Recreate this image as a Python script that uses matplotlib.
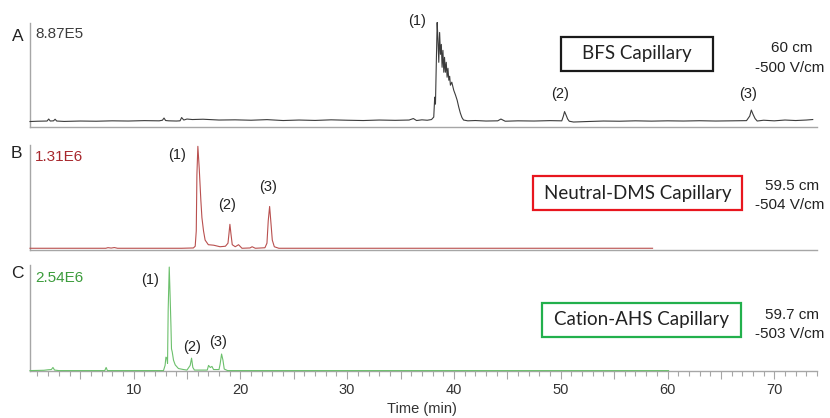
import matplotlib
matplotlib.use("Agg")
import matplotlib.pyplot as plt
from matplotlib.patches import Rectangle
from matplotlib.ticker import MultipleLocator, FuncFormatter

W, H = 830, 418          # output size in px (dpi 100)
XMIN, XMAX = 0.3, 74.0   # time window (min)

# --- traces: time (min), intensity / full scale ---
bfs_t = [0.3, 1.0, 1.9, 2.05, 2.2, 2.5, 2.65, 2.8, 3.5, 5, 6.5, 8, 9.5, 11, 12.4,
         12.7, 12.85, 13.0, 13.3, 14.0, 14.35, 14.5, 14.7, 15.0, 15.5, 16.5, 18,
         19.5, 21, 22.5, 24, 25.5, 27, 28.5, 30, 31.5, 33, 34.5, 35.8, 36.2, 36.5,
         37.0, 37.5, 37.9, 38.11, 38.2, 38.27, 38.35, 38.43, 38.5, 38.58, 38.66,
         38.74, 38.82, 38.89, 38.97, 39.05, 39.12, 39.2, 39.28, 39.36, 39.44, 39.52,
         39.6, 39.67, 39.8, 39.98, 40.15, 40.3, 40.45, 40.6, 40.75, 40.9, 41.3, 42,
         43, 44.1, 44.4, 44.8, 46, 47.5, 49, 50.1, 50.25, 50.36, 50.5, 50.65, 50.8,
         51.2, 52.5, 54, 55.5, 57, 58.5, 60, 61.5, 63, 64.5, 66, 67.4, 67.7, 67.85,
         68.0, 68.2, 68.4, 69, 70, 71, 72, 73, 73.6]
bfs_i = [0.005, 0.008, 0.01, 0.03, 0.01, 0.012, 0.028, 0.01, 0.006, 0.01, 0.008,
         0.012, 0.01, 0.014, 0.012, 0.018, 0.04, 0.015, 0.012, 0.01, 0.012, 0.045,
         0.02, 0.03, 0.025, 0.028, 0.02, 0.022, 0.018, 0.024, 0.015, 0.02, 0.016,
         0.022, 0.018, 0.015, 0.02, 0.017, 0.02, 0.035, 0.015, 0.022, 0.018, 0.025,
         0.05, 0.25, 0.18, 0.6, 1.0, 0.84, 0.6, 0.9, 0.68, 0.78, 0.55, 0.72, 0.5,
         0.65, 0.5, 0.6, 0.45, 0.54, 0.42, 0.46, 0.37, 0.4, 0.32, 0.27, 0.22, 0.15,
         0.09, 0.045, 0.02, 0.012, 0.015, 0.01, 0.012, 0.03, 0.008, 0.012, 0.01,
         0.014, 0.012, 0.06, 0.105, 0.07, 0.03, 0.008, 0.0, 0.005, 0.01, 0.008,
         0.012, 0.009, 0.012, 0.01, 0.013, 0.01, 0.012, 0.014, 0.06, 0.12, 0.08,
         0.035, 0.01, 0.018, 0.012, 0.02, 0.015, 0.02, 0.025]

dms_t = [0.3, 7.4, 7.6, 7.9, 8.2, 8.5, 14.5, 15.6, 15.77, 15.87, 15.93, 16.02,
         16.15, 16.3, 16.4, 16.55, 16.7, 17.0, 17.5, 18.1, 18.6, 18.84, 18.93,
         19.02, 19.12, 19.24, 19.52, 19.83, 20.15, 20.9, 21.1, 21.4, 22.3, 22.49,
         22.61, 22.74, 22.87, 22.99, 23.18, 23.6, 58.6]
dms_i = [0.0, 0.0, 0.006, 0.002, 0.007, 0.0, 0.0, 0.003, 0.02, 0.17, 0.72, 1.0,
         0.78, 0.47, 0.3, 0.17, 0.08, 0.035, 0.03, 0.015, 0.02, 0.05, 0.14, 0.235,
         0.14, 0.035, 0.015, 0.035, 0.0, 0.003, 0.015, 0.0, 0.005, 0.05, 0.27,
         0.41, 0.24, 0.08, 0.015, 0.0, 0.0]

ahs_t = [0.3, 1.6, 2.0, 2.3, 2.45, 2.6, 3.0, 7.3, 7.43, 7.55, 12.8, 12.95, 13.03,
         13.12, 13.18, 13.24, 13.34, 13.43, 13.5, 13.55, 13.62, 13.74, 13.9, 14.2,
         14.68, 15.0, 15.3, 15.43, 15.55, 15.7, 16.9, 17.02, 17.18, 17.34, 17.49,
         18.0, 18.1, 18.24, 18.37, 18.49, 18.8, 60.1]
ahs_i = [0.0, 0.003, 0.008, 0.01, 0.03, 0.005, 0.0, 0.0, 0.03, 0.0, 0.0, 0.05,
         0.13, 0.12, 0.07, 0.59, 1.0, 0.69, 0.43, 0.21, 0.18, 0.1, 0.055, 0.02,
         0.01, 0.005, 0.05, 0.12, 0.03, 0.005, 0.005, 0.05, 0.03, 0.04, 0.01, 0.01,
         0.06, 0.16, 0.1, 0.015, 0.0, 0.0]

panel_letters = ["A", "B", "C"]
full_scales = ["8.87E5", "1.31E6", "2.54E6"]
capillaries = ["BFS Capillary", "Neutral-DMS Capillary", "Cation-AHS Capillary"]
lengths = ["60 cm", "59.5 cm", "59.7 cm"]
fields = ["-500 V/cm", "-504 V/cm", "-503 V/cm"]
peak_labels = ["(1)", "(2)", "(3)"]

# layout, in reference pixels (y from the top)
AX_LEFT, AX_RIGHT = 30, 817
PANEL_TB = [(22.5, 127), (145, 250), (265, 371)]
YLIMS = [(-0.05, 1.0), (-0.017, 1.013), (-0.004, 1.02)]
TRACE_COL = ["#3c3c3c", "#b9504f", "#6cc06c"]
SCALE_COL = ["#3c3c3c", "#a8282d", "#3c9c3c"]
BOX_COL = ["#1a1a1a", "#e8161e", "#22b04c"]
BOX_PX = [(561, 37, 713, 71), (533, 176, 742, 210), (542, 303, 741, 337)]
LETTER_XY = [(18, 36.5), (16, 153), (17, 274)]
SCALE_Y = [34, 157, 278.5]
SIDE_Y = [(48, 68), (186, 205), (315, 334)]
PEAK_XY = [[(417, 21.5), (560, 94), (748, 94)],
           [(177, 155), (227, 205), (268, 187)],
           [(150, 280), (192, 347), (218, 342)]]
AXIS_GRAY = "#a6a6a6"


def fx(x):
    return x / W


def fy(y):
    return 1 - y / H


plt.rcParams["font.family"] = ["Liberation Sans", "DejaVu Sans"]
fig = plt.figure(figsize=(W / 100, H / 100), dpi=100)

traces = [(bfs_t, bfs_i), (dms_t, dms_i), (ahs_t, ahs_i)]
axes = []
for k, (t, inten) in enumerate(traces):
    top, bot = PANEL_TB[k]
    ax = fig.add_axes([fx(AX_LEFT), fy(bot), fx(AX_RIGHT) - fx(AX_LEFT), (bot - top) / H])
    ax.plot(t, inten, color=TRACE_COL[k], lw=0.8, zorder=3, clip_on=False)
    ax.set_xlim(XMIN, XMAX)
    ax.set_ylim(*YLIMS[k])
    for s in ("top", "right"):
        ax.spines[s].set_visible(False)
    for s in ("left", "bottom"):
        ax.spines[s].set_color(AXIS_GRAY)
        ax.spines[s].set_linewidth(1.0)
    ax.set_yticks([])
    ax.patch.set_alpha(0)
    if k < 2:
        ax.set_xticks([])
    axes.append(ax)

# only the bottom panel carries the time axis
axc = axes[2]
axc.xaxis.set_major_locator(MultipleLocator(5))
axc.xaxis.set_minor_locator(MultipleLocator(1))
axc.xaxis.set_major_formatter(FuncFormatter(lambda v, p: f"{v:.0f}" if v % 10 == 0 else ""))
axc.tick_params(axis="x", which="major", length=5.5, width=0.8, color=AXIS_GRAY,
                pad=3.5, labelsize=10.5, labelcolor="#333333")
axc.tick_params(axis="x", which="minor", length=3.6, width=0.8, color=AXIS_GRAY)
fig.text(fx(422), fy(409), "Time (min)", ha="center", va="center", fontsize=10.5,
         color="#333333")

for k in range(3):
    fig.text(fx(LETTER_XY[k][0]), fy(LETTER_XY[k][1]), panel_letters[k], ha="center",
             va="center", fontsize=12.5, color="#222222")
    fig.text(fx(35), fy(SCALE_Y[k]), full_scales[k], ha="left", va="center",
             fontsize=11, color=SCALE_COL[k])
    for lab, (px, py) in zip(peak_labels, PEAK_XY[k]):
        fig.text(fx(px), fy(py), lab, ha="center", va="center", fontsize=10.5,
                 color="#222222")
    x0, y0, x1, y1 = BOX_PX[k]
    fig.patches.append(Rectangle((fx(x0), fy(y1)), fx(x1) - fx(x0), (y1 - y0) / H,
                                 transform=fig.transFigure, fill=False,
                                 edgecolor=BOX_COL[k], lw=1.6))
    fig.text(fx((x0 + x1) / 2), fy((y0 + y1) / 2), capillaries[k], ha="center",
             va="center", fontsize=13.5, family=["Lato", "DejaVu Sans"], color="#222222")
    fig.text(fx(792), fy(SIDE_Y[k][0]), lengths[k], ha="center", va="center",
             fontsize=11, color="#222222")
    fig.text(fx(790), fy(SIDE_Y[k][1]), fields[k], ha="center", va="center",
             fontsize=11, color="#222222")

fig.savefig("out.png", dpi=100)
